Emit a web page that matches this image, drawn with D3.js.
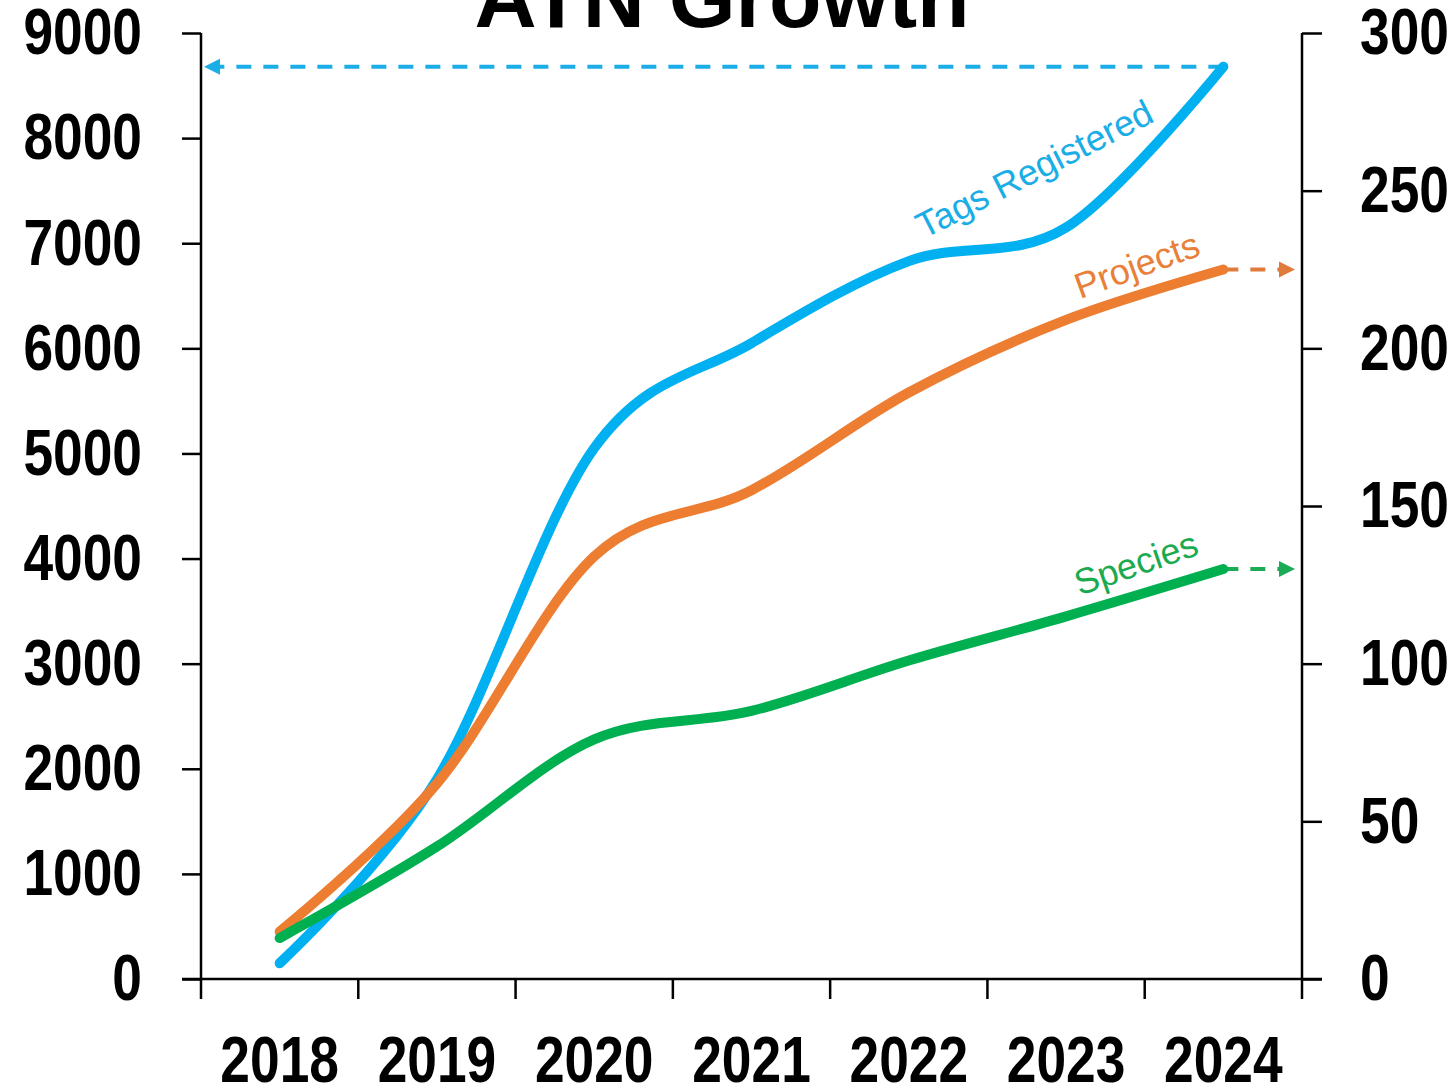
<!DOCTYPE html>
<html><head><meta charset="utf-8">
<script src="https://cdn.jsdelivr.net/npm/d3@7"></script>
<style>
html,body{margin:0;padding:0;background:#fff;}
svg{display:block;}
</style></head>
<body>
<svg id="chart" width="1454" height="1088"></svg>
<script>
const years = ["2018","2019","2020","2021","2022","2023","2024"];
const tagsRegistered = [150, 1900, 5050, 6050, 6830, 7150, 8680];
const projects = [15, 62, 134, 155, 186, 209, 225];
const species = [13, 42, 76, 85, 101, 115, 130];
const leftTicks = [0,1000,2000,3000,4000,5000,6000,7000,8000,9000];
const rightTicks = [0,50,100,150,200,250,300];
const title = "ATN Growth";

const svg = d3.select("#chart");
const L = 201, R = 1302, T = 33, B = 979;
const x = d3.scaleBand().domain(years).range([L, R]).padding(0);
const yL = d3.scaleLinear().domain([0, 9000]).range([B, T]);
const yR = d3.scaleLinear().domain([0, 300]).range([B, T]);
const cx = d => x(d) + x.bandwidth()/2;

const fontAxis = '"Liberation Sans",Arial,sans-serif';

// title
svg.append("text").attr("x", 722).attr("y", 27).attr("text-anchor","middle")
  .style("font-family",'"Liberation Sans",Arial,sans-serif').style("font-weight","bold")
  .style("font-size","86px").attr("fill","#000").text(title);

// left axis
const gl = svg.append("g").attr("transform",`translate(${L},0)`)
  .call(d3.axisLeft(yL).tickValues(leftTicks).tickSize(19).tickPadding(40).tickFormat(d3.format("d")));
// right axis
const gr = svg.append("g").attr("transform",`translate(${R},0)`)
  .call(d3.axisRight(yR).tickValues(rightTicks).tickSize(20).tickPadding(38).tickFormat(d3.format("d")));
// bottom axis
const gb = svg.append("g").attr("transform",`translate(0,${B})`)
  .call(d3.axisBottom(x).tickSize(0).tickPadding(57));
[gl,gr,gb].forEach(g=>{
  g.selectAll(".domain").remove();
  g.selectAll("line").attr("stroke","#000").attr("stroke-width",2.5);
  g.selectAll("text").style("font-family",fontAxis).style("font-weight","bold")
    .style("font-size","65px").attr("fill","#000")
    .each(function(){
      const len = this.getComputedTextLength();
      d3.select(this).attr("textLength", len*0.82).attr("lengthAdjust","spacingAndGlyphs");
    });
});
// axis lines
svg.append("line").attr("x1",L).attr("x2",L).attr("y1",T).attr("y2",B).attr("stroke","#000").attr("stroke-width",2.5);
svg.append("line").attr("x1",R).attr("x2",R).attr("y1",T).attr("y2",B).attr("stroke","#000").attr("stroke-width",2.5);
svg.append("line").attr("x1",L-19).attr("x2",R+20).attr("y1",B).attr("y2",B).attr("stroke","#000").attr("stroke-width",2.5);
// category boundary ticks
const bounds = years.map(d=>x(d)).concat([R]);
svg.selectAll(".xt").data(bounds).enter().append("line")
  .attr("x1",d=>d).attr("x2",d=>d).attr("y1",B).attr("y2",B+20)
  .attr("stroke","#000").attr("stroke-width",2.5);

const curve = d3.curveCardinal.tension(0);
const series = [
  {vals: tagsRegistered, y: yL, color:"#00B0F0"},
  {vals: projects, y: yR, color:"#ED7D31"},
  {vals: species, y: yR, color:"#00B050"}
];

// dashed arrows
const last = years[years.length-1];
function arrow(x1, y, x2, color, dir){
  const tipLen = 16, half = 8;
  const lineEnd = x2 - dir*tipLen;
  svg.append("line").attr("x1",x1).attr("x2",lineEnd).attr("y1",y).attr("y2",y)
    .attr("stroke",color).attr("stroke-width",4).attr("stroke-dasharray","15,12");
  svg.append("path").attr("d",`M${x2},${y} L${lineEnd},${y-half} L${lineEnd},${y+half} Z`).attr("fill",color);
}
arrow(cx(last), yL(tagsRegistered[6]), L+3, "#1BADE6", -1);
arrow(cx(last), yR(projects[6]), R-7, "#E07B3C", 1);
arrow(cx(last), yR(species[6]), R-7, "#1BAA55", 1);

series.forEach(s=>{
  const line = d3.line().x((d,i)=>cx(years[i])).y(d=>s.y(d)).curve(curve);
  svg.append("path").attr("d", line(s.vals)).attr("fill","none")
    .attr("stroke", s.color).attr("stroke-width", 10)
    .attr("stroke-linecap","round").attr("stroke-linejoin","round");
});

// series labels
const labels = [
  {text:"Tags Registered", x:1040, y:180, a:-27, color:"#1BADE6"},
  {text:"Projects", x:1141, y:277, a:-20, color:"#E8803A"},
  {text:"Species", x:1140, y:575, a:-19, color:"#1BAA50"}
];
labels.forEach(l=>{
  svg.append("text").attr("transform",`translate(${l.x},${l.y}) rotate(${l.a})`)
    .attr("text-anchor","middle").attr("fill",l.color)
    .style("font-family",'"Liberation Sans",Arial,sans-serif').style("font-size","36px")
    .text(l.text);
});
</script>
</body></html>
